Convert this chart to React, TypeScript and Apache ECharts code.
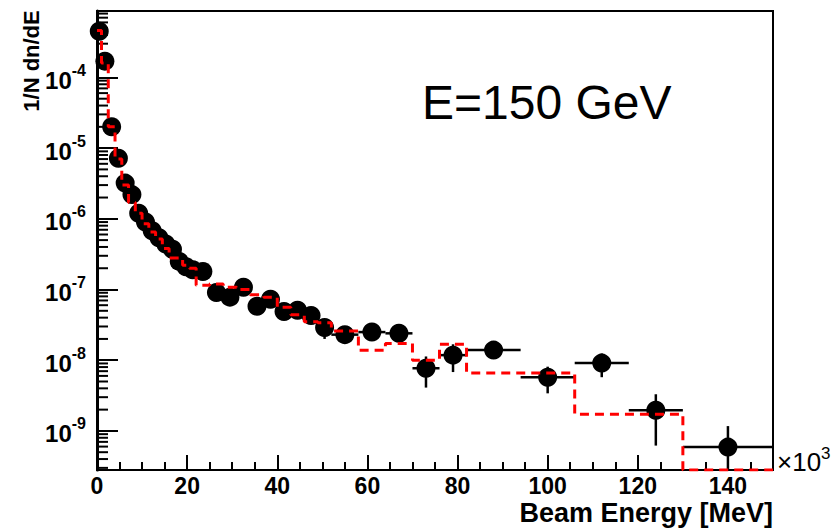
import React, { useEffect, useRef } from "react";
import * as echarts from "echarts";

// Bin edges in units of 10^3 MeV
const binEdges = [0, 1, 2.5, 4, 5.5, 7, 8.5, 10, 11.5, 13, 14.5, 16, 17.5, 19, 20.5, 22,
  25, 28, 31, 34, 37, 40, 43, 46, 49, 52, 58, 64, 70, 76, 82, 94, 106, 118, 130, 150];

// Measured data (black points)
const dataValues = [4.5e-4, 1.7e-4, 2.0e-5, 7.2e-6, 3.2e-6, 2.2e-6, 1.2e-6, 9.0e-7, 6.8e-7, 5.4e-7,
  4.4e-7, 3.7e-7, 2.5e-7, 2.1e-7, 1.9e-7,
  1.8e-7, 9.1e-8, 7.8e-8, 1.08e-7, 5.8e-8, 7.3e-8, 4.9e-8, 5.1e-8, 4.3e-8, 2.9e-8,
  2.3e-8, 2.5e-8, 2.4e-8, 7.7e-9, 1.18e-8,
  1.39e-8, 5.75e-9, 9.1e-9, 1.96e-9,
  5.9e-10];
const dataErrors = [1e-5, 5e-6, 8e-7, 3e-7, 1.5e-7, 1e-7, 6e-8, 5e-8, 4e-8, 3e-8,
  3e-8, 2.5e-8, 2e-8, 1.8e-8, 1.6e-8,
  1.4e-8, 1e-8, 9e-9, 1.1e-8, 8e-9, 9e-9, 8e-9, 8e-9, 8e-9, 9e-9,
  4e-9, 5e-9, 5e-9, 3.6e-9, 5e-9,
  2e-9, 2.35e-9, 3.35e-9, 1.34e-9,
  5.8e-10];

// Simulation (red dashed histogram)
const mcValues = [4.6e-4, 1.6e-4, 2.0e-5, 7.0e-6, 3.0e-6, 1.7e-6, 1.2e-6, 8.5e-7, 6.5e-7, 5.2e-7,
  3.8e-7, 2.8e-7, 2.8e-7, 2.2e-7, 2.0e-7,
  1.15e-7, 1.2e-7, 1.08e-7, 1.0e-7, 8.4e-8, 7.8e-8, 5.6e-8, 4.4e-8, 3.5e-8, 3.4e-8,
  2.6e-8, 1.38e-8, 1.73e-8, 1.0e-8, 1.68e-8,
  6.6e-9, 6.6e-9, 1.72e-9, 1.72e-9,
  0];

const xTickLabels = ["0", "20", "40", "60", "80", "100", "120", "140"];
const yTickExponents = [-9, -8, -7, -6, -5, -4];
const minorMantissas = [2, 3, 4, 5, 6, 7, 8, 9];
const minorDecades = [-10, -9, -8, -7, -6, -5, -4];

const Y_MIN = 2.8e-10;
const Y_MAX = 8.7e-4;
const X_MIN = 0;
const X_MAX = 150;
const FONT = '"Liberation Sans", Arial, Helvetica, sans-serif';

export default function App() {
  const ref = useRef<HTMLDivElement>(null);

  useEffect(() => {
    if (!ref.current) return;
    const chart = echarts.init(ref.current, undefined, { renderer: "svg" });

    const points = dataValues.map((v, i) => [
      (binEdges[i] + binEdges[i + 1]) / 2,
      v,
      binEdges[i],
      binEdges[i + 1],
      v - dataErrors[i],
      v + dataErrors[i],
    ]);

    const mcLine: number[][] = [];
    mcValues.forEach((v, i) => {
      const yv = v > 0 ? v : Y_MIN;
      mcLine.push([binEdges[i], yv]);
      mcLine.push([binEdges[i + 1], yv]);
    });

    const minorTicks: number[][] = [];
    minorDecades.forEach((d) => {
      minorMantissas.forEach((m) => {
        const v = m * Math.pow(10, d);
        if (v > Y_MIN && v < Y_MAX) minorTicks.push([0, v]);
      });
    });

    const option: any = {
      animation: false,
      backgroundColor: "#fff",
      grid: {
        left: 97,
        right: 64,
        top: 11,
        bottom: 58,
        show: true,
        borderColor: "#000",
        borderWidth: 2,
        containLabel: false,
      },
      xAxis: [
        {
          type: "value",
          min: X_MIN,
          max: X_MAX,
          interval: 20,
          position: "bottom",
          axisLine: { show: true, onZero: false, lineStyle: { color: "#000", width: 2 } },
          axisTick: { show: true, inside: true, length: 15, lineStyle: { color: "#000", width: 2 } },
          splitLine: { show: false },
          axisLabel: {
            show: true,
            margin: 5,
            color: "#000",
            fontFamily: FONT,
            fontWeight: "bold",
            fontSize: 23,
            lineHeight: 22,
            showMaxLabel: false,
            formatter: (v: number) => {
              const idx = xTickLabels.indexOf(String(v));
              return idx >= 0 ? xTickLabels[idx] : "";
            },
          },
        },
        {
          type: "value",
          min: X_MIN,
          max: X_MAX,
          interval: 5,
          position: "bottom",
          axisLine: { show: false, onZero: false },
          axisTick: { show: true, inside: true, length: 8, lineStyle: { color: "#000", width: 2 } },
          axisLabel: { show: false },
          splitLine: { show: false },
        },
      ],
      yAxis: {
        type: "log",
        logBase: 10,
        min: Y_MIN,
        max: Y_MAX,
        axisLine: { show: true, onZero: false, lineStyle: { color: "#000", width: 3 } },
        axisTick: { show: true, inside: true, length: 21, lineStyle: { color: "#000", width: 2 } },
        splitLine: { show: false },
        axisLabel: {
          margin: 11,
          color: "#000",
          fontFamily: FONT,
          fontWeight: "bold",
          formatter: (v: number) => {
            const e = Math.round(Math.log10(v));
            if (Math.abs(Math.log10(v) - e) > 1e-6) return "";
            if (yTickExponents.indexOf(e) < 0) return "";
            return `{b|10}{s|${e}}`;
          },
          rich: {
            b: { fontFamily: FONT, fontWeight: "bold", fontSize: 24, color: "#000", verticalAlign: "bottom", lineHeight: 30 },
            s: { fontFamily: FONT, fontWeight: "bold", fontSize: 16, color: "#000", verticalAlign: "top", lineHeight: 30 },
          },
        },
      },
      graphic: [
        {
          type: "text",
          left: 422,
          top: 78,
          style: { text: "E=150 GeV", font: `48px ${FONT}`, fill: "#000" },
        },
        {
          type: "text",
          x: 31,
          y: 61,
          rotation: Math.PI / 2,
          style: {
            text: "1/N dn/dE",
            font: `bold 22px ${FONT}`,
            fill: "#000",
            align: "center",
            verticalAlign: "middle",
          },
        },
        {
          type: "text",
          x: 773,
          y: 513,
          style: {
            text: "Beam Energy [MeV]",
            font: `bold 27px ${FONT}`,
            fill: "#000",
            align: "right",
            verticalAlign: "middle",
          },
        },
        {
          type: "text",
          x: 777,
          y: 460,
          style: {
            text: "{a|×10}{b|3}",
            align: "left",
            verticalAlign: "middle",
            rich: {
              a: { font: `26px ${FONT}`, fill: "#000", verticalAlign: "bottom", lineHeight: 30 },
              b: { font: `17px ${FONT}`, fill: "#000", verticalAlign: "top", lineHeight: 30 },
            },
          },
        },
      ],
      series: [
        {
          type: "custom",
          name: "minorY",
          xAxisIndex: 0,
          silent: true,
          clip: true,
          data: minorTicks,
          encode: { x: 0, y: 1 },
          renderItem: (params: any, api: any) => {
            const p = api.coord([X_MIN, api.value(1)]);
            return {
              type: "line",
              shape: { x1: p[0], y1: p[1], x2: p[0] + 11, y2: p[1] },
              style: { stroke: "#000", lineWidth: 2 },
            };
          },
          z: 3,
        },
        {
          type: "custom",
          name: "errors",
          xAxisIndex: 0,
          silent: true,
          clip: true,
          data: points,
          encode: { x: 0, y: 1 },
          renderItem: (params: any, api: any) => {
            const y = api.value(1);
            const a = api.coord([api.value(2), y]);
            const b = api.coord([api.value(3), y]);
            const lo = api.value(4) > 0 ? api.value(4) : Y_MIN / 10;
            const c = api.coord([api.value(0), lo]);
            const d = api.coord([api.value(0), api.value(5)]);
            return {
              type: "group",
              children: [
                { type: "line", shape: { x1: a[0], y1: a[1], x2: b[0], y2: b[1] }, style: { stroke: "#000", lineWidth: 2.5 } },
                { type: "line", shape: { x1: c[0], y1: c[1], x2: d[0], y2: d[1] }, style: { stroke: "#000", lineWidth: 2.5 } },
              ],
            };
          },
          z: 4,
        },
        {
          type: "scatter",
          name: "data",
          xAxisIndex: 0,
          data: points.map((p) => [p[0], p[1]]),
          symbol: "circle",
          symbolSize: 19,
          itemStyle: { color: "#000", opacity: 1 },
          silent: true,
          z: 5,
        },
        {
          type: "line",
          name: "mc",
          xAxisIndex: 0,
          data: mcLine,
          showSymbol: false,
          symbol: "none",
          clip: true,
          lineStyle: { color: "#ff0000", width: 3, type: [9, 6] },
          silent: true,
          z: 6,
        },
      ],
    };

    chart.setOption(option);
    return () => chart.dispose();
  }, []);

  return (
    <div
      ref={ref}
      style={{ position: "fixed", left: 0, top: 0, width: 837, height: 528, background: "#fff" }}
    />
  );
}
